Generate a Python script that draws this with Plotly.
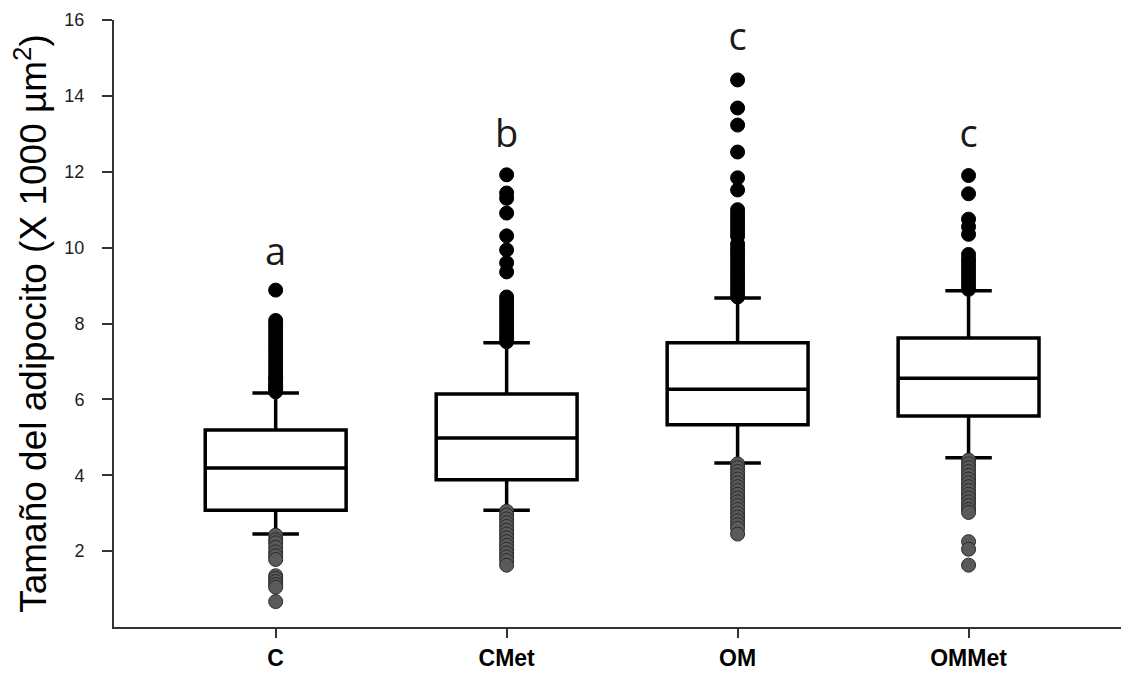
import plotly.graph_objects as go

# Groups and box statistics (adipocyte size, x1000 µm²)
groups = ["C", "CMet", "OM", "OMMet"]
q1 = [3.08, 3.88, 5.33, 5.56]
median = [4.19, 4.98, 6.27, 6.56]
q3 = [5.19, 6.14, 7.49, 7.62]
lower_whisker = [2.45, 3.08, 4.32, 4.46]
upper_whisker = [6.17, 7.49, 8.67, 8.86]
letters = ["a", "b", "c", "c"]
letter_y = [9.8, 12.9, 15.45, 12.9]

# Outliers above the upper whisker
high_C = [6.2, 6.25, 6.3, 6.35, 6.4, 6.5, 6.55, 6.6, 6.7, 6.8, 6.9, 7.0, 7.1,
          7.2, 7.3, 7.4, 7.5, 7.6, 7.7, 7.8, 7.9, 8.0, 8.08, 8.88]
high_CMet = [7.52, 7.6, 7.7, 7.8, 7.9, 8.0, 8.1, 8.2, 8.3, 8.4, 8.5, 8.6, 8.7,
             9.36, 9.6, 9.94, 10.31, 10.91, 11.3, 11.44, 11.92]
high_OM = [8.7, 8.8, 8.9, 9.0, 9.1, 9.2, 9.3, 9.4, 9.5, 9.6, 9.7, 9.8, 9.9, 10.0,
           10.1, 10.3, 10.4, 10.5, 10.6, 10.7, 10.8, 10.9, 11.0, 11.52, 11.84,
           12.52, 13.23, 13.68, 14.42]
high_OMMet = [8.9, 9.0, 9.1, 9.2, 9.3, 9.4, 9.5, 9.6, 9.7, 9.82, 10.35, 10.55,
              10.75, 11.42, 11.9]

# Outliers below the lower whisker
low_C = [2.42, 2.3, 2.22, 2.1, 1.98, 1.88, 1.78, 1.35, 1.28, 1.2, 1.12, 1.05, 0.67]
low_CMet = [3.05, 2.95, 2.85, 2.75, 2.65, 2.55, 2.45, 2.35, 2.25, 2.15, 2.05,
            1.95, 1.85, 1.75, 1.63]
low_OM = [4.3, 4.2, 4.1, 4.0, 3.9, 3.8, 3.7, 3.6, 3.5, 3.4, 3.3, 3.2, 3.1, 3.0,
          2.9, 2.8, 2.7, 2.6, 2.45]
low_OMMet = [4.4, 4.3, 4.2, 4.1, 4.0, 3.9, 3.8, 3.7, 3.6, 3.5, 3.4, 3.3, 3.2,
             3.1, 3.02, 2.25, 2.05, 1.63]

highs = [high_C, high_CMet, high_OM, high_OMMet]
lows = [low_C, low_CMet, low_OM, low_OMMet]

fig = go.Figure()

for i, g in enumerate(groups):
    fig.add_trace(go.Box(
        x=[i], q1=[q1[i]], median=[median[i]], q3=[q3[i]],
        lowerfence=[lower_whisker[i]], upperfence=[upper_whisker[i]],
        width=0.61, whiskerwidth=0.33, boxpoints=False,
        fillcolor="white", line=dict(color="black", width=3.5),
        showlegend=False, hoverinfo="skip",
    ))

for i, g in enumerate(groups):
    fig.add_trace(go.Scatter(
        x=[i] * len(highs[i]), y=highs[i], mode="markers",
        marker=dict(size=14, color="black", line=dict(color="black", width=1)),
        showlegend=False, hoverinfo="skip",
    ))
    fig.add_trace(go.Scatter(
        x=[i] * len(lows[i]), y=lows[i], mode="markers",
        marker=dict(size=14, color="#5a5a5a", line=dict(color="#2a2a2a", width=1)),
        showlegend=False, hoverinfo="skip",
    ))

# Significance letters above each group
fig.add_trace(go.Scatter(
    x=list(range(len(groups))), y=letter_y, mode="text", text=letters,
    textfont=dict(family="Open Sans", size=38, color="#1a1a1a"),
    showlegend=False, hoverinfo="skip",
))

fig.update_layout(
    width=1121, height=685,
    margin=dict(l=114, r=0, t=20, b=58),
    paper_bgcolor="white", plot_bgcolor="white",
    font=dict(family="Liberation Sans, Arial", color="black"),
)

fig.update_xaxes(
    range=[-0.70, 3.66], tickmode="array",
    tickvals=list(range(len(groups))), ticktext=[f"<b>{g}</b>" for g in groups],
    tickfont=dict(size=23, color="black"),
    ticks="outside", ticklen=9, tickwidth=1.5, tickcolor="#333",
    showline=True, linecolor="#333", linewidth=2,
    showgrid=False, zeroline=False,
)

fig.update_yaxes(
    range=[0, 16], tickmode="array", tickvals=[2, 4, 6, 8, 10, 12, 14, 16],
    tickfont=dict(size=18, color="#222"), ticklabelstandoff=14,
    ticks="outside", ticklen=10, tickwidth=1.5, tickcolor="#333",
    showline=True, linecolor="#333", linewidth=2,
    showgrid=False, zeroline=False,
    title=dict(text="Tamaño del adipocito (X 1000 µm<sup>2</sup>)",
               font=dict(size=37, color="black"), standoff=6),
)

fig.write_html("out.html")
